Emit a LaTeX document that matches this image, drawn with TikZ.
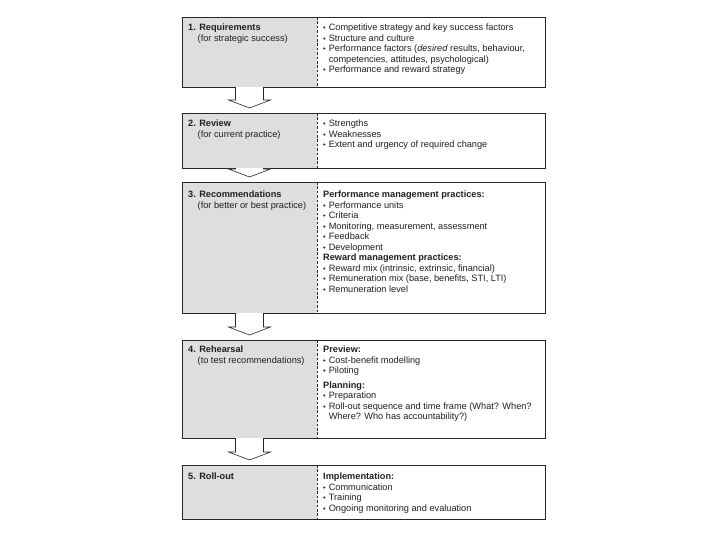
\documentclass[tikz,border=0pt]{standalone}
\usepackage{fontspec}
\setmainfont{Liberation Sans}
\usepackage{tikz}
\usetikzlibrary{positioning,calc}
\tikzset{
    line color/.style={black!85},
    cell left/.style={anchor=north west,fill=black!13,minimum width=135pt,inner sep=0pt,outer sep=0pt},
    cell right/.style={anchor=north west,minimum width=228pt,inner sep=0pt,outer sep=0pt},
    frame/.style={line color,line width=0.9pt},
    divider/.style={line color,line width=0.6pt,dash pattern=on 2.6pt off 1.8pt},
    title text/.style={anchor=north west,inner sep=0pt,align=left,text=black!88,font=\fontsize{9.2}{10.5}\selectfont},
    list text/.style={anchor=north west,inner sep=0pt,align=left,text=black!88,font=\fontsize{9.2}{10.5}\selectfont},
    stage arrow/.style={line color,line width=0.6pt,fill=white,line join=miter},
}
\newcommand\bul{\makebox[5.6pt][l]{\raisebox{0.2pt}{\fontsize{7.5}{7.5}\selectfont •}}}
\newcommand\cont{\hspace*{5.6pt}}
% open block arrow from one stage down to the next
\newcommand\stagearrow[2]{%
    \draw[stage arrow] ($(#1.south)+(-14,0)$) |- ($(#2.north)+(-21,-13)$)
        -- ($(#2.north)+(0,-5)$) -- ($(#2.north)+(21,-13)$) -| ($(#1.south)+(14,0)$);
}

\begin{document}
\begin{tikzpicture}[x=1pt,y=-1pt]
    \useasboundingbox (0,0) rectangle (720,540);

    % cells
    \node[cell left,minimum height=70pt] (l1) at (182,17) {};
    \node[cell right,minimum height=70pt] (r1) at (l1.north east) {};
    \node[cell left,minimum height=55pt] (l2) at (182,113) {};
    \node[cell right,minimum height=55pt] (r2) at (l2.north east) {};
    \node[cell left,minimum height=131pt] (l3) at (182,182) {};
    \node[cell right,minimum height=131pt] (r3) at (l3.north east) {};
    \node[cell left,minimum height=98pt] (l4) at (182,340) {};
    \node[cell right,minimum height=98pt] (r4) at (l4.north east) {};
    \node[cell left,minimum height=54pt] (l5) at (182,465) {};
    \node[cell right,minimum height=54pt] (r5) at (l5.north east) {};

    \foreach \i in {1,...,5} {
        \draw[divider] (l\i.north east) -- (l\i.south east);
        \draw[frame] (l\i.north west) rectangle (r\i.south east);
    }

    % arrows
    \stagearrow{l1}{l2}
    \stagearrow{l2}{l3}
    \stagearrow{l3}{l4}
    \stagearrow{l4}{l5}

    % stage titles
    \node[title text,below right=7pt and 6pt of l1.north west] (t1)
        {\textbf{1. Requirements}\\\hspace*{9.5pt}(for strategic success)};
    \node[title text,below right=7pt and 6pt of l2.north west] (t2)
        {\textbf{2. Review}\\\hspace*{9.5pt}(for current practice)};
    \node[title text,below right=9pt and 6pt of l3.north west] (t3)
        {\textbf{3. Recommendations}\\\hspace*{9.5pt}(for better or best practice)};
    \node[title text,below right=6pt and 6pt of l4.north west] (t4)
        {\textbf{4. Rehearsal}\\\hspace*{9.5pt}(to test recommendations)};
    \node[title text,below right=8pt and 6pt of l5.north west] (t5)
        {\textbf{5. Roll-out}};

    % stage contents
    \node[list text,below right=7pt and 6pt of r1.north west] (c1)
        {\bul Competitive strategy and key success factors\\
         \bul Structure and culture\\
         \bul Performance factors (\textit{desired} results, behaviour,\\
         \cont competencies, attitudes, psychological)\\
         \bul Performance and reward strategy};
    \node[list text,below right=7pt and 6pt of r2.north west] (c2)
        {\bul Strengths\\
         \bul Weaknesses\\
         \bul Extent and urgency of required change};
    \node[list text,below right=9pt and 6pt of r3.north west] (c3)
        {\textbf{Performance management practices:}\\
         \bul Performance units\\
         \bul Criteria\\
         \bul Monitoring, measurement, assessment\\
         \bul Feedback\\
         \bul Development\\
         \textbf{Reward management practices:}\\
         \bul Reward mix (intrinsic, extrinsic, financial)\\
         \bul Remuneration mix (base, benefits, STI, LTI)\\
         \bul Remuneration level};
    \node[list text,below right=6pt and 6pt of r4.north west] (c4)
        {\textbf{Preview:}\\
         \bul Cost-benefit modelling\\
         \bul Piloting\\[4pt]
         \textbf{Planning:}\\
         \bul Preparation\\
         \bul Roll-out sequence and time frame (What? When?\\
         \cont Where? Who has accountability?)};
    \node[list text,below right=8pt and 6pt of r5.north west] (c5)
        {\textbf{Implementation:}\\
         \bul Communication\\
         \bul Training\\
         \bul Ongoing monitoring and evaluation};
\end{tikzpicture}
\end{document}
